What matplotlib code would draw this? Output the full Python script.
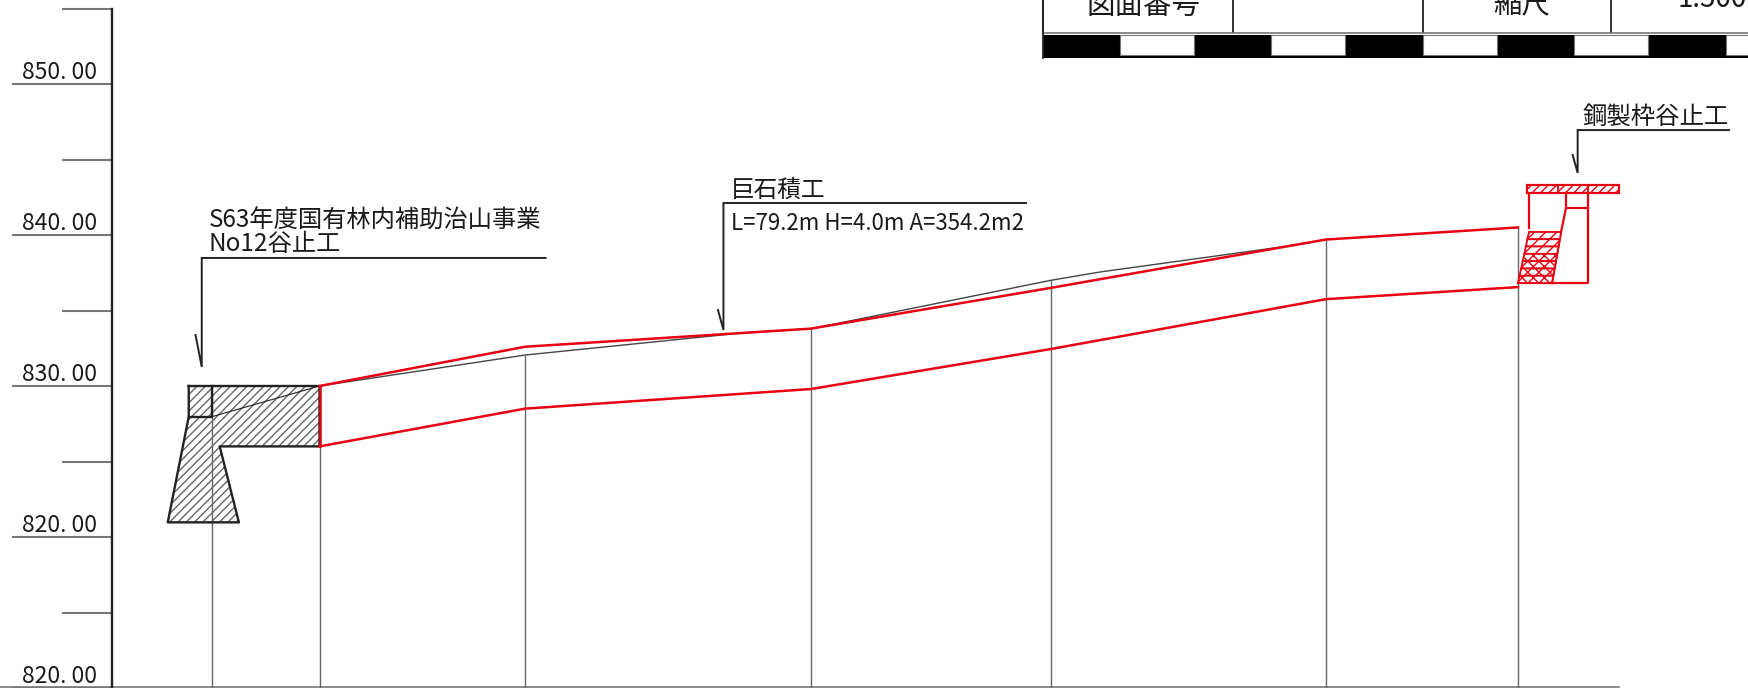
import numpy as np
import matplotlib
matplotlib.use("Agg")
import matplotlib.pyplot as plt

plt.rcParams['font.family'] = ['Noto Sans CJK JP', 'DejaVu Sans']
plt.rcParams['hatch.linewidth'] = 1.0

RED = '#e60012'; GREY = '#777777'; DARK = '#222222'; TXT = '#1a1a1a'

# elevation axis
major_ticks = [850, 840, 830, 820, 810]
major_labels = ['850. 00', '840. 00', '830. 00', '820. 00', '820. 00']
minor_ticks = [855, 845, 835, 825, 815]

# profile stations (m along the section, m elevation)
station_x = [14.04, 21.16, 34.77, 53.71, 69.60, 87.81, 100.53]
station_top = [830.0, 830.0, 832.05, 833.8, 837.0, 839.7, 840.5]
wall_x = [21.16, 34.77, 53.71, 69.60, 87.81, 100.53]
wall_top = [830.0, 832.6, 833.8, 836.5, 839.7, 840.5]
wall_bottom = [826.0, 828.5, 829.8, 832.45, 835.75, 836.55]
ground_x = [21.16, 34.77, 49.0, 53.71, 55.0, 69.6, 72.85, 84.8, 86.1, 87.81]
ground_y = [830.0, 832.05, 833.5, 833.8, 834.05, 837.0, 837.55, 839.2, 839.4, 839.7]

# existing check dam (black)
dam_x = [12.50, 21.16, 21.16, 14.55, 15.82, 11.11, 12.50, 12.50]
dam_y = [830.0, 830.0, 826.0, 826.0, 820.97, 820.97, 827.97, 830.0]
crown_x = [12.50, 14.04, 14.04]
crown_y = [827.97, 827.97, 830.0]
dam_ground_x = [14.04, 21.16]
dam_ground_y = [827.97, 830.0]

# steel frame check dam (red)
cap_x = [101.13, 107.22]
cap_y = [842.78, 843.31]
cap_dividers = [103.18, 105.17]
frame_x = [101.26, 101.26]
frame_y = [842.78, 840.46]
outer_x = [105.17, 105.17, 100.53]
outer_y = [842.78, 836.82, 836.82]
inner_x = [103.71, 103.71, 105.17]
inner_y = [842.78, 841.79, 841.79]
slope_x = [103.71, 103.38, 102.78]
slope_y = [841.79, 840.20, 836.82]
row_y = [840.20, 839.72, 839.24, 838.75, 838.27, 837.78, 837.30, 836.82]
row_left = [101.26, 101.15, 101.05, 100.95, 100.84, 100.74, 100.63, 100.53]
row_right = [103.38, 103.30, 103.21, 103.12, 103.04, 102.95, 102.87, 102.78]

# leaders
leaders = [
    ([36.13, 13.36, 13.36, 12.95], [838.48, 838.48, 831.26, 833.38]),
    ([67.95, 47.91, 47.91, 47.55], [842.12, 842.12, 833.71, 835.03]),
    ([114.50, 104.48, 104.48, 104.15], [846.95, 846.95, 844.11, 845.30]),
]
notes = [
    (13.82, 840.93, 'S63年度国有林内補助治山事業', 17.5),
    (13.82, 839.40, 'No12谷止工', 17.5),
    (48.41, 842.98, '巨石積工', 17.0),
    (48.41, 840.79, 'L=79.2m H=4.0m A=354.2m2', 16.0),
    (104.83, 847.80, '鋼製枠谷止工', 17.6),
]

# title block
block_cols = [69.05, 81.64, 94.22, 106.69]
block_line = 853.38
bar_edges = [69.07, 74.17, 79.07, 84.17, 89.07, 94.24, 99.14, 104.24, 109.14, 114.30, 116.0]
bar_top, bar_bottom, white_bottom = 853.25, 851.74, 851.92
block_text = [(75.70, 855.2, '図面番号', 'center', 20.5), (100.79, 855.2, '縮尺', 'center', 20.5),
              (111.06, 855.62, '1:500', 'left', 20)]

fig = plt.figure(figsize=(17.49, 6.88), dpi=100)
ax = fig.add_axes([0, 0, 1, 1])
ax.set_xlim(0, 1749 / 15.1)
ax.set_ylim(810, 810 + 688 / 15.1)
ax.axis('off')

# axis
ax.plot([7.42, 7.42], [810, 855], color=DARK, lw=1.7, zorder=3)
ax.hlines(major_ticks, 0.79, 7.42, color=GREY, lw=1.5)
ax.hlines(minor_ticks, 4.11, 7.42, color=GREY, lw=1.5)
ax.plot([0, 107.2], [810.06, 810.06], color=GREY, lw=1.2)
for t, l in zip(major_ticks, major_labels):
    ax.text(6.4, t + 0.74, l, ha='right', va='center', fontsize=16.6, color=TXT)

# stations
ax.vlines(station_x, 810, station_top, color='#666666', lw=1.0, zorder=2)

# existing dam
ax.fill(dam_x, dam_y, facecolor='white', edgecolor='#666666', hatch='////', lw=0, zorder=1)
ax.plot(dam_x, dam_y, color=DARK, lw=1.7, zorder=4)
ax.plot(crown_x, crown_y, color=DARK, lw=1.7, zorder=4)
ax.plot(dam_ground_x, dam_ground_y, color=DARK, lw=0.8, zorder=4)

# ground and wall
ax.plot(ground_x, ground_y, color='#444444', lw=1.0, zorder=4)
ax.plot(wall_x, wall_top, color=RED, lw=1.8, zorder=5)
ax.plot(wall_x, wall_bottom, color=RED, lw=1.8, zorder=5)
ax.plot([wall_x[0], wall_x[0]], [wall_top[0], wall_bottom[0]], color=RED, lw=1.8, zorder=5)

# steel frame dam
ax.fill([cap_x[0], cap_x[1], cap_x[1], cap_x[0]], [cap_y[0], cap_y[0], cap_y[1], cap_y[1]],
        facecolor='white', edgecolor=RED, hatch='////', lw=1.6, zorder=5)
ax.vlines(cap_dividers, cap_y[0], cap_y[1], color=RED, lw=1.3, zorder=6)
ax.plot(frame_x, frame_y, color=RED, lw=1.6, zorder=5)
ax.plot(outer_x, outer_y, color=RED, lw=1.6, zorder=5)
ax.plot(inner_x, inner_y, color=RED, lw=1.6, zorder=5)
ax.plot(slope_x, slope_y, color=RED, lw=1.6, zorder=5)
for i in range(len(row_y) - 1):
    ax.fill([row_left[i], row_right[i], row_right[i + 1], row_left[i + 1]],
            [row_y[i], row_y[i], row_y[i + 1], row_y[i + 1]],
            facecolor='white', edgecolor=RED, hatch='///' if i < 3 else 'xxx', lw=1.3, zorder=5)

# leaders and notes
for lx, ly in leaders:
    ax.plot(lx, ly, color=DARK, lw=1.4, solid_joinstyle='miter', zorder=6)
for x, y, s, fs in notes:
    ax.text(x, y, s, ha='left', va='center', fontsize=fs, color=TXT)

# title block
ax.vlines(block_cols, block_line, 856, color=DARK, lw=1.3)
ax.plot([block_cols[0], 116], [block_line, block_line], color=GREY, lw=1.2)
edges = np.array(bar_edges)
ax.plot([block_cols[0], block_cols[0]], [bar_bottom, 856], color=DARK, lw=1.3)
ax.bar(edges[:-1][0::2], bar_top - bar_bottom, np.diff(edges)[0::2], bottom=bar_bottom,
       align='edge', color='black', lw=0)
ax.bar(edges[:-1][1::2], bar_top - bar_bottom, np.diff(edges)[1::2], bottom=bar_bottom,
       align='edge', color='black', lw=0)
ax.bar(edges[:-1][1::2], bar_top - white_bottom, np.diff(edges)[1::2], bottom=white_bottom,
       align='edge', color='white', edgecolor=GREY, lw=0.8, zorder=3)
for x, y, s, ha, fs in block_text:
    ax.text(x, y, s, ha=ha, va='center', fontsize=fs, color=TXT)

fig.savefig('out.png', dpi=100, facecolor='white')
